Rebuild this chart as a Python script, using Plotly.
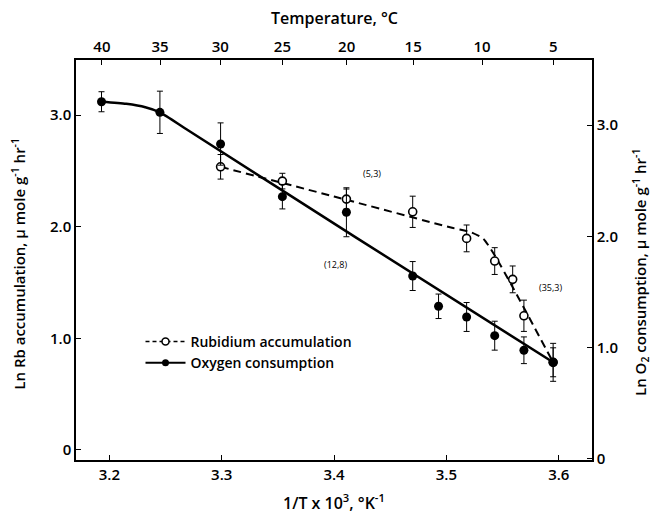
import plotly.graph_objects as go

# ---- data ----
o2_x = [3.193, 3.245, 3.299, 3.354, 3.411, 3.470, 3.493, 3.518, 3.543, 3.569, 3.595]
o2_y = [3.209, 3.114, 2.829, 2.356, 2.216, 1.643, 1.371, 1.275, 1.107, 0.976, 0.868]
o2_err = [0.09, 0.19, 0.19, 0.11, 0.22, 0.13, 0.11, 0.13, 0.13, 0.12, 0.13]

rb_x = [3.299, 3.354, 3.411, 3.470, 3.518, 3.543, 3.559, 3.569, 3.595]
rb_y = [2.536, 2.408, 2.247, 2.133, 1.895, 1.692, 1.528, 1.202, 0.785]
rb_err = [0.11, 0.07, 0.09, 0.14, 0.12, 0.12, 0.12, 0.14, 0.17]

# fitted curves
o2_fit_x = [3.193, 3.215, 3.232, 3.245, 3.27, 3.42, 3.595]
o2_fit_y = [3.209, 3.19, 3.16, 3.114, 2.953, 1.986, 0.868]
rb_fit_x = [3.299, 3.40, 3.505, 3.522, 3.533, 3.542, 3.56, 3.595]
rb_fit_y = [2.536, 2.27, 1.99, 1.95, 1.89, 1.76, 1.44, 0.785]

temp_ticks_c = [40, 35, 30, 25, 20, 15, 10, 5]
x_ticks = [3.2, 3.3, 3.4, 3.5, 3.6]
x_ticktext = ["3.2", "3.3", "3.4", "3.5", "3.6"]
y_ticks = [0, 1, 2, 3]
y_ticktext = ["0", "1.0", "2.0", "3.0"]

labels = [("(5,3)", 3.4338, 2.477), ("(12,8)", 3.401, 1.665), ("(35,3)", 3.5927, 1.457)]

FONT = "'Open Sans', Lato, sans-serif"
TXT = dict(family=FONT, color="black", weight=600)

fig = go.Figure()

fig.add_trace(go.Scatter(x=o2_fit_x, y=o2_fit_y, mode="lines", yaxis="y2",
                         line=dict(color="black", width=2.5, shape="spline", smoothing=0.6),
                         showlegend=False, hoverinfo="skip"))
fig.add_trace(go.Scatter(x=rb_fit_x, y=rb_fit_y, mode="lines",
                         line=dict(color="black", width=2, dash="8px,5px", shape="spline", smoothing=0.6),
                         showlegend=False, hoverinfo="skip"))

fig.add_trace(go.Scatter(x=o2_x, y=o2_y, mode="markers", yaxis="y2",
                         marker=dict(color="black", size=9),
                         error_y=dict(type="data", array=o2_err, color="black", thickness=1, width=3),
                         showlegend=False))
fig.add_trace(go.Scatter(x=rb_x, y=rb_y, mode="markers",
                         marker=dict(color="white", size=8, line=dict(color="black", width=1.6)),
                         error_y=dict(type="data", array=rb_err, color="black", thickness=1, width=3),
                         showlegend=False))

# legend entries
fig.add_trace(go.Scatter(x=[None], y=[None], mode="lines+markers", name="Rubidium accumulation",
                         line=dict(color="black", width=1.5, dash="4px,3px"),
                         marker=dict(color="white", size=7, line=dict(color="black", width=1.5))))
fig.add_trace(go.Scatter(x=[None], y=[None], mode="lines+markers", name="Oxygen consumption",
                         line=dict(color="black", width=2),
                         marker=dict(color="black", size=7)))

# top axis dummy trace for the temperature scale
fig.add_trace(go.Scatter(x=[None], y=[None], xaxis="x2", showlegend=False))

for t, xv, yv in labels:
    fig.add_annotation(x=xv, y=yv, text=t, showarrow=False,
                       font=dict(family=FONT, size=9, color="#000000"))

# axis titles (paper coordinates)
fig.add_annotation(xref="paper", yref="paper", x=-0.113, y=0.49, xanchor="center", yanchor="middle",
                   text="Ln Rb accumulation, μ mole g<sup>-1</sup> hr<sup>-1</sup>",
                   textangle=-90, showarrow=False, font=dict(size=15, **TXT))
fig.add_annotation(xref="paper", yref="paper", x=1.093, y=0.47, xanchor="center", yanchor="middle",
                   text="Ln O<sub>2</sub> consumption, μ mole g<sup>-1</sup> hr<sup>-1</sup>",
                   textangle=-90, showarrow=False, font=dict(size=15, **TXT))
fig.add_annotation(xref="paper", yref="paper", x=0.5, y=-0.105, xanchor="center", yanchor="middle",
                   text="1/T x 10<sup>3</sup>, °K<sup>-1</sup>", showarrow=False, font=dict(size=16, **TXT))
fig.add_annotation(xref="paper", yref="paper", x=0.5, y=1.105, xanchor="center", yanchor="middle",
                   text="Temperature, °C", showarrow=False, font=dict(size=16, **TXT))

axis_common = dict(showgrid=False, zeroline=False, showline=True, linecolor="black", linewidth=1.5,
                   ticks="inside", ticklen=5, tickcolor="black", tickwidth=1,
                   tickfont=dict(size=15, **TXT))

# the page has an 8px body margin, so the figure is 8px smaller on each axis
fig.update_layout(
    width=650, height=505,
    margin=dict(l=68, r=66, t=52, b=53, autoexpand=False),
    paper_bgcolor="white", plot_bgcolor="white",
    font=dict(family=FONT, color="black"),
    xaxis=dict(range=[3.1703, 3.6296], tickvals=x_ticks, ticktext=x_ticktext, **axis_common),
    xaxis2=dict(overlaying="x", side="top", range=[3.1703, 3.6296],
                tickvals=[1000 / (t + 273.15) for t in temp_ticks_c],
                ticktext=[str(t) for t in temp_ticks_c], **axis_common),
    yaxis=dict(range=[-0.0896, 3.4925], tickvals=y_ticks, ticktext=y_ticktext, **axis_common),
    yaxis2=dict(overlaying="y", side="right", range=[-0.01, 3.584], tickvals=y_ticks, ticktext=y_ticktext,
                **axis_common),
    legend=dict(x=0.125, y=0.335, xanchor="left", yanchor="top", bgcolor="rgba(0,0,0,0)",
                font=dict(size=14, **TXT), itemwidth=40, tracegroupgap=2),
)

fig.write_html("out.html")
